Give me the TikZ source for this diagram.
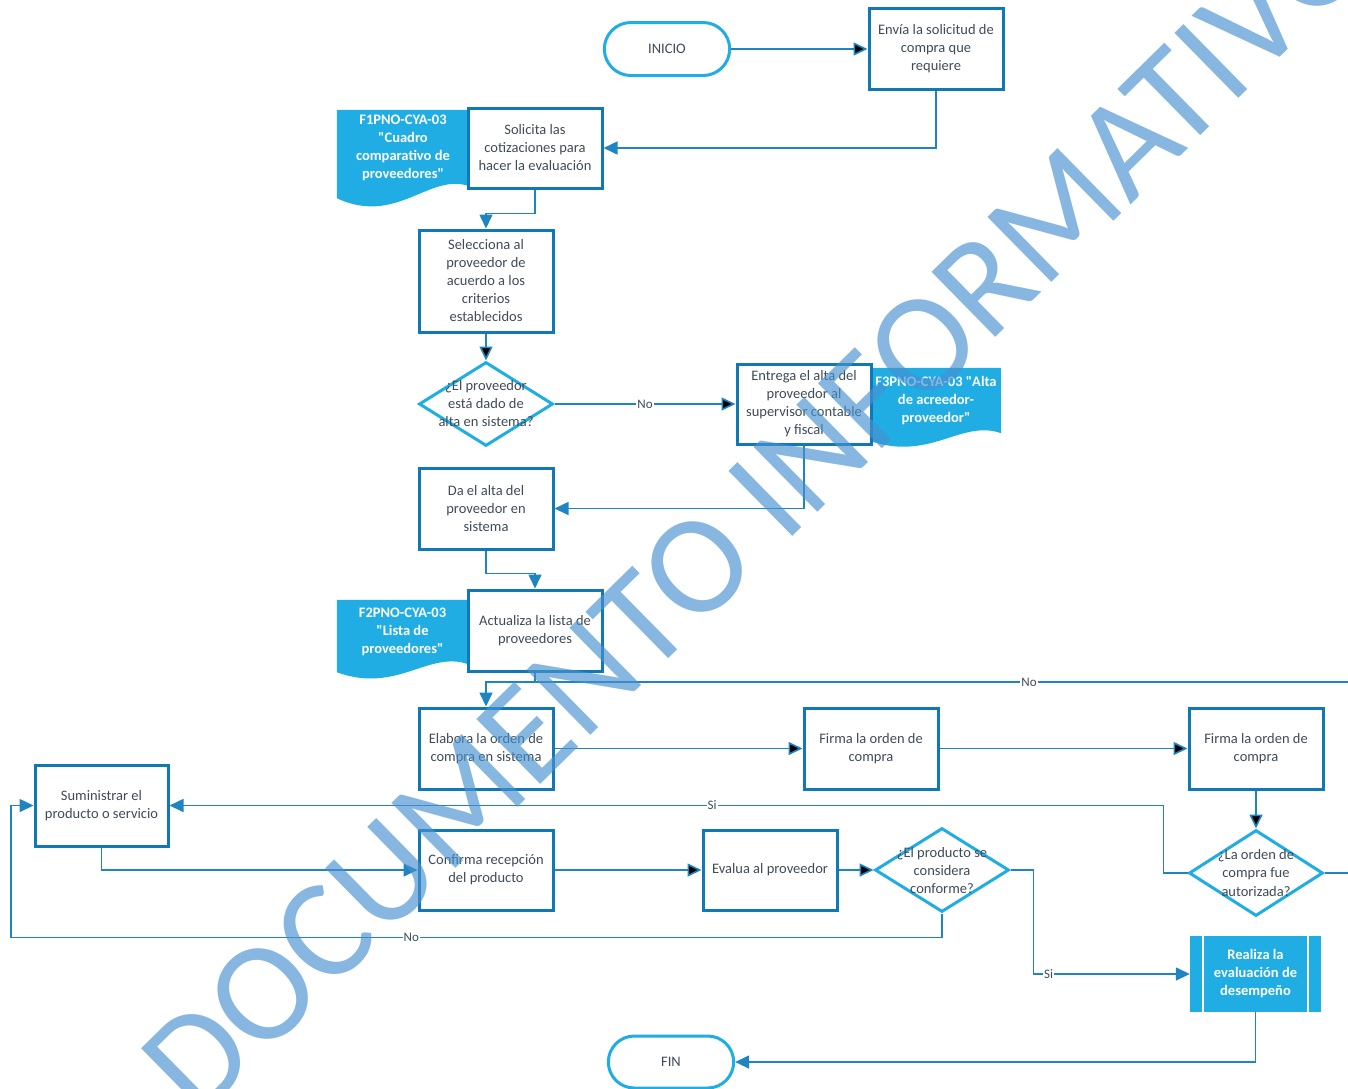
\documentclass[tikz,border=0pt]{standalone}
\usepackage{fontspec}
\setmainfont{Carlito}[Ligatures=TeXOff]
\usetikzlibrary{arrows.meta,positioning,shapes.geometric,shapes.misc,backgrounds}

\definecolor{boxblue}{RGB}{16,120,181}
\definecolor{lineblue}{RGB}{30,132,194}
\definecolor{docblue}{RGB}{31,173,227}
\definecolor{txtgray}{RGB}{62,76,88}
\definecolor{wmblue}{RGB}{70,145,208}

\newcommand{\boxfont}{\fontsize{14.5}{18}\selectfont}
% wavy fill under a document node: name, left drop, curve drop
\newcommand{\docfill}[3]{\fill[docblue] (#1.north west) -- (#1.north east) -- (#1.south east)
  .. controls +(-40,-14) and +(60,#3) .. ([yshift=-#2pt]#1.south west) -- cycle;}

\tikzset{
  stepbox/.style={draw=boxblue, line width=3pt, fill=white, text=txtgray, align=center,
    font=\boxfont, minimum width=134pt, minimum height=81pt, inner sep=2pt},
  terminal/.style={rounded rectangle, draw=docblue, line width=3pt, fill=white, text=txtgray,
    font=\boxfont, minimum width=132pt, minimum height=53pt},
  decision/.style={diamond, draw=docblue, line width=3pt, fill=white,
    minimum width=134pt, minimum height=84pt, inner sep=0pt},
  dectext/.style={text=txtgray, align=center, font=\boxfont, inner sep=0pt},
  docnote/.style={text=white, align=center, font=\boxfont\bfseries, minimum width=132pt, inner sep=1pt},
  predef/.style={fill=docblue, text=white, align=center, font=\boxfont\bfseries,
    minimum width=131pt, minimum height=76pt,
    path picture={\draw[white, line width=1.5pt]
      ([xshift=13pt]path picture bounding box.north west) -- ([xshift=13pt]path picture bounding box.south west)
      ([xshift=-13pt]path picture bounding box.north east) -- ([xshift=-13pt]path picture bounding box.south east);}},
  conn/.style={draw=lineblue, line width=1.6pt},
  lbl/.style={fill=white, text=txtgray, font=\fontsize{13}{13}\selectfont, inner sep=1pt},
  wmark/.style={text=wmblue, text opacity=0.65, font=\fontsize{142}{142}\selectfont}
}

\begin{document}
\begin{tikzpicture}[x=1pt,y=-1pt,node distance=2cm,on grid,>={Triangle[length=14pt,width=13pt]}]
  \useasboundingbox (0,0) rectangle (1348,1088);
  \clip (0,0) rectangle (1348,1088);

  \path
  node[terminal] (inicio) at (667,49) {INICIO}
  node[stepbox] (envia) at (936,49) {Envía la solicitud de\\compra que\\requiere}
  node[stepbox, minimum height=80pt] (solicita) at (535,148) {Solicita las\\cotizaciones para\\hacer la evaluación}
  node[docnote, minimum height=76pt] (f1) at (403,148) {F1PNO-CYA-03\\"Cuadro\\comparativo de\\proveedores"}
  node[stepbox, minimum height=102pt] (selecciona) at (486,281) {Selecciona al\\proveedor de\\acuerdo a los\\criterios\\establecidos}
  node[decision] (dec1) at (486,404) {}
  node[dectext] (dec1t) at (dec1) {¿El proveedor\\está dado de\\alta en sistema?}
  node[stepbox, minimum height=80pt] (entrega) [right=318pt of dec1] {Entrega el alta del\\proveedor al\\supervisor contable\\y fiscal}
  node[docnote, minimum width=130pt, minimum height=65pt] (f3) at (936,400.5) {F3PNO-CYA-03 "Alta\\de acreedor-\\proveedor"}
  node[stepbox] (daalta) at (486,508.5) {Da el alta del\\proveedor en\\sistema}
  node[stepbox] (actualiza) at (535,630.5) {Actualiza la lista de\\proveedores}
  node[docnote, minimum width=131pt, minimum height=64pt] (f2) at (402.5,632) {F2PNO-CYA-03\\"Lista de\\proveedores"}
  node[stepbox] (elab) at (486,748.5) {Elabora la orden de\\compra en sistema}
  node[stepbox] (firma1) [right=385pt of elab] {Firma la orden de\\compra}
  node[stepbox] (firma2) [right=385pt of firma1] {Firma la orden de\\compra}
  node[decision, minimum height=86pt] (dec2) [below=124.5pt of firma2] {}
  node[dectext] (dec2t) at (dec2) {¿La orden de\\compra fue\\autorizada?}
  node[stepbox, minimum width=133pt] (suministrar) at (101.5,805.5) {Suministrar el\\producto o servicio}
  node[stepbox, minimum height=80pt] (confirma) at (486,870) {Confirma recepción\\del producto}
  node[stepbox, minimum height=80pt] (evalua) [right=284pt of confirma] {Evalua al proveedor}
  node[decision] (dec3) [right=172pt of evalua] {}
  node[dectext] (dec3t) at (dec3) {¿El producto se\\considera\\conforme?}
  node[predef] (realiza) at (1255.5,974) {Realiza la\\evaluación de\\desempeño}
  node[terminal, minimum height=52pt] (fin) at (671,1062) {FIN}
  ;
  \coordinate (join) at (535,682);
  \coordinate (noleft) at (11,805.5);

  \begin{scope}[on background layer]
    \docfill{f1}{12}{28}
    \docfill{f2}{8}{22}
    \docfill{f3}{8}{20}
  \end{scope}

  \path[->, conn]
  (inicio) edge (envia)
  (selecciona) edge (dec1)
  (dec1) edge node[lbl] {No} (entrega)
  (elab) edge (firma1)
  (firma1) edge (firma2)
  (firma2) edge (dec2)
  (confirma) edge (evalua)
  (evalua) edge (dec3)
  ;

  \draw[->, conn] (envia.south) |- (solicita.east);
  \draw[->, conn] (solicita.south) -- ++(0,24) -| (selecciona.north);
  \draw[->, conn] (entrega.south) |- (daalta.east);
  \draw[->, conn] (daalta.south) -- ++(0,23) -| (actualiza.north);
  \draw[->, conn] (actualiza.south) -- (join) -| (elab.north);
  \draw[conn] (dec2.east) -- ++(45,0) |- node[lbl, pos=.704] {No} (join);
  \draw[->, conn] (dec2.west) -- ++(-24,0) |- node[lbl, pos=.727] {Si} (suministrar.east);
  \draw[->, conn] (suministrar.south) |- (confirma.west);
  \draw[->, conn] (dec3.south) -- ++(0,24) -| node[lbl, pos=.285] {No} (noleft) -- (suministrar.west);
  \draw[->, conn] (dec3.east) -- ++(23,0) |- node[lbl, pos=.548] {Si} (realiza.west);
  \draw[->, conn] (realiza.south) |- (fin.east);

  % watermark
  \node[wmark, rotate=44.5] (marca) at (757,508) {DOCUMENTO INFORMATIVO};
\end{tikzpicture}
\end{document}
